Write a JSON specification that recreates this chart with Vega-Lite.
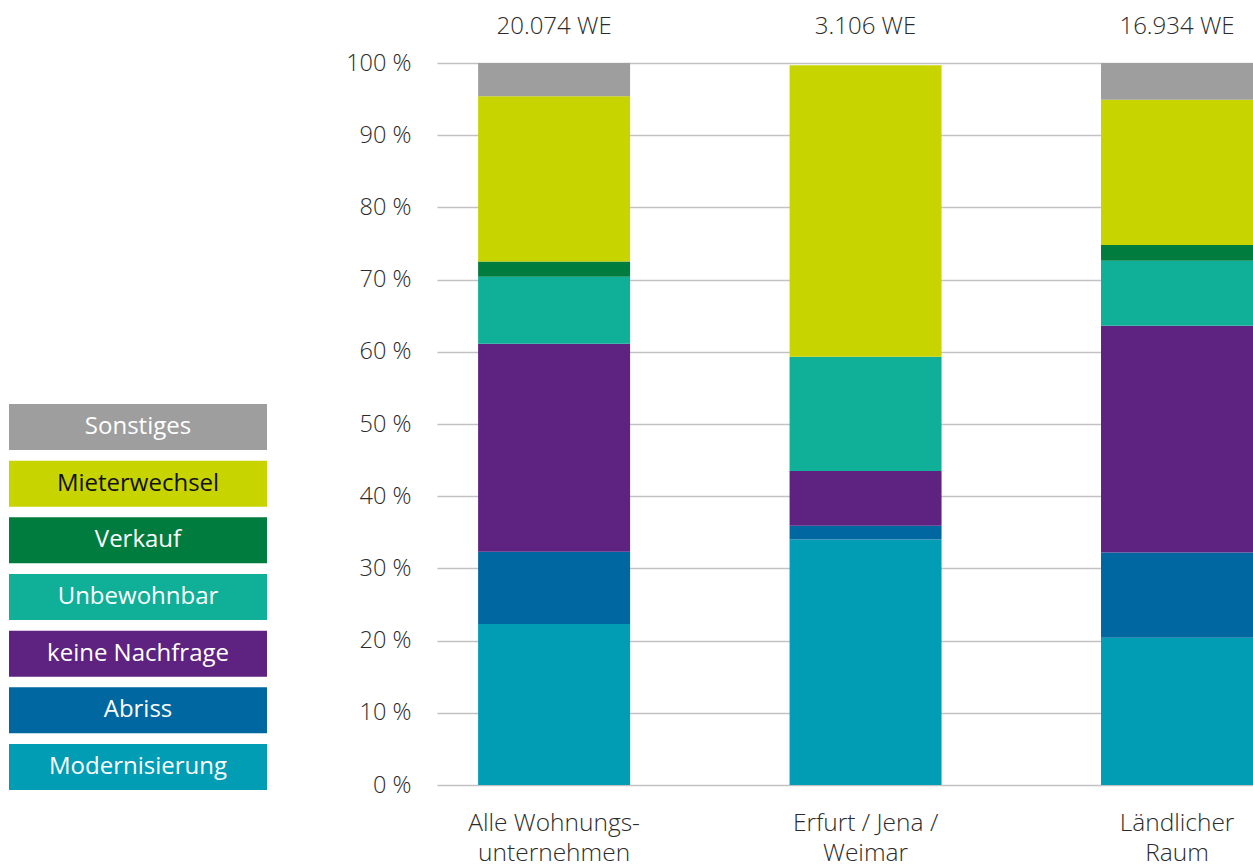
{
  "$schema": "https://vega.github.io/schema/vega-lite/v6.json",
  "background": "white",
  "padding": {"left": 9, "top": 15, "right": 0, "bottom": 10},
  "bounds": "flush",
  "spacing": 170,
  "config": {"view": {"stroke": null}, "font": "Open Sans"},
  "datasets": {
    "werte": [
      {"Gruppe": "Alle Wohnungs-\nunternehmen", "Kategorie": "Modernisierung", "Anteil": 22.3},
      {"Gruppe": "Alle Wohnungs-\nunternehmen", "Kategorie": "Abriss", "Anteil": 10.0},
      {"Gruppe": "Alle Wohnungs-\nunternehmen", "Kategorie": "keine Nachfrage", "Anteil": 28.8},
      {"Gruppe": "Alle Wohnungs-\nunternehmen", "Kategorie": "Unbewohnbar", "Anteil": 9.3},
      {"Gruppe": "Alle Wohnungs-\nunternehmen", "Kategorie": "Verkauf", "Anteil": 2.1},
      {"Gruppe": "Alle Wohnungs-\nunternehmen", "Kategorie": "Mieterwechsel", "Anteil": 22.9},
      {"Gruppe": "Alle Wohnungs-\nunternehmen", "Kategorie": "Sonstiges", "Anteil": 4.6},
      {"Gruppe": "Erfurt / Jena /\nWeimar", "Kategorie": "Modernisierung", "Anteil": 34.0},
      {"Gruppe": "Erfurt / Jena /\nWeimar", "Kategorie": "Abriss", "Anteil": 1.9},
      {"Gruppe": "Erfurt / Jena /\nWeimar", "Kategorie": "keine Nachfrage", "Anteil": 7.6},
      {"Gruppe": "Erfurt / Jena /\nWeimar", "Kategorie": "Unbewohnbar", "Anteil": 15.8},
      {"Gruppe": "Erfurt / Jena /\nWeimar", "Kategorie": "Verkauf", "Anteil": 0},
      {"Gruppe": "Erfurt / Jena /\nWeimar", "Kategorie": "Mieterwechsel", "Anteil": 40.4},
      {"Gruppe": "Erfurt / Jena /\nWeimar", "Kategorie": "Sonstiges", "Anteil": 0},
      {"Gruppe": "Ländlicher\nRaum", "Kategorie": "Modernisierung", "Anteil": 20.4},
      {"Gruppe": "Ländlicher\nRaum", "Kategorie": "Abriss", "Anteil": 11.8},
      {"Gruppe": "Ländlicher\nRaum", "Kategorie": "keine Nachfrage", "Anteil": 31.4},
      {"Gruppe": "Ländlicher\nRaum", "Kategorie": "Unbewohnbar", "Anteil": 9.0},
      {"Gruppe": "Ländlicher\nRaum", "Kategorie": "Verkauf", "Anteil": 2.2},
      {"Gruppe": "Ländlicher\nRaum", "Kategorie": "Mieterwechsel", "Anteil": 20.1},
      {"Gruppe": "Ländlicher\nRaum", "Kategorie": "Sonstiges", "Anteil": 5.1}
    ],
    "gesamt": [
      {"Gruppe": "Alle Wohnungs-\nunternehmen", "WE": "20.074 WE"},
      {"Gruppe": "Erfurt / Jena /\nWeimar", "WE": "3.106 WE"},
      {"Gruppe": "Ländlicher\nRaum", "WE": "16.934 WE"}
    ],
    "legende": [
      {"Kategorie": "Sonstiges"},
      {"Kategorie": "Mieterwechsel"},
      {"Kategorie": "Verkauf"},
      {"Kategorie": "Unbewohnbar"},
      {"Kategorie": "keine Nachfrage"},
      {"Kategorie": "Abriss"},
      {"Kategorie": "Modernisierung"}
    ]
  },
  "hconcat": [
    {
      "width": 258,
      "height": 727,
      "data": {"name": "legende"},
      "layer": [
        {
          "mark": {"type": "rect"},
          "encoding": {
            "y": {"field": "Kategorie", "type": "nominal",
                  "scale": {"domain": ["Sonstiges", "Mieterwechsel", "Verkauf", "Unbewohnbar", "keine Nachfrage", "Abriss", "Modernisierung"],
                            "range": [341, 727], "paddingInner": 0.188, "paddingOuter": 0},
                  "axis": null},
            "color": {"field": "Kategorie", "type": "nominal",
                      "scale": {"domain": ["Modernisierung", "Abriss", "keine Nachfrage", "Unbewohnbar", "Verkauf", "Mieterwechsel", "Sonstiges"],
                                "range": ["#009DB5", "#0067A0", "#5E2281", "#0FAF98", "#007D3E", "#C8D400", "#9D9E9D"]},
                      "legend": null}
          }
        },
        {
          "mark": {"type": "text", "fontSize": 24, "font": "Open Sans", "baseline": "middle", "align": "center"},
          "encoding": {
            "y": {"field": "Kategorie", "type": "nominal"},
            "text": {"field": "Kategorie"},
            "color": {"condition": {"test": "datum.Kategorie === 'Mieterwechsel'", "value": "#111111"}, "value": "#ffffff"}
          }
        }
      ]
    },
    {
      "width": 816,
      "height": 722,
      "layer": [
        {
          "data": {"name": "werte"},
          "transform": [
            {"calculate": "indexof(['Modernisierung', 'Abriss', 'keine Nachfrage', 'Unbewohnbar', 'Verkauf', 'Mieterwechsel', 'Sonstiges'], datum.Kategorie)", "as": "Rang"}
          ],
          "mark": {"type": "bar"},
          "encoding": {
            "x": {"field": "Gruppe", "type": "nominal",
                  "sort": ["Alle Wohnungs-\nunternehmen", "Erfurt / Jena /\nWeimar", "Ländlicher\nRaum"],
                  "scale": {"paddingInner": 0.512, "paddingOuter": 0.066, "align": 1},
                  "axis": {"title": null, "domain": false, "ticks": false, "labelAngle": 0,
                           "labelFontSize": 24.5, "labelFont": "Open Sans", "labelFontWeight": 300,
                           "labelColor": "#2b2b2b", "labelPadding": 26, "labelLineHeight": 30,
                           "labelExpr": "split(datum.label, '\\n')"}},
            "y": {"field": "Anteil", "type": "quantitative", "stack": "zero",
                  "scale": {"domain": [0, 100]},
                  "axis": {"title": null, "domain": false, "ticks": false,
                           "values": [0, 10, 20, 30, 40, 50, 60, 70, 80, 90, 100],
                           "labelExpr": "datum.value + ' %'",
                           "labelFontSize": 23.5, "labelFont": "Open Sans", "labelFontWeight": 300,
                           "labelColor": "#2b2b2b", "labelPadding": 26,
                           "gridColor": "#c2c2c2", "gridWidth": 1.5}},
            "color": {"field": "Kategorie", "type": "nominal",
                      "scale": {"domain": ["Modernisierung", "Abriss", "keine Nachfrage", "Unbewohnbar", "Verkauf", "Mieterwechsel", "Sonstiges"],
                                "range": ["#009DB5", "#0067A0", "#5E2281", "#0FAF98", "#007D3E", "#C8D400", "#9D9E9D"]},
                      "legend": null},
            "order": {"field": "Rang", "type": "quantitative", "sort": "ascending"}
          }
        },
        {
          "data": {"name": "gesamt"},
          "mark": {"type": "text", "fontSize": 24, "font": "Open Sans", "fontWeight": 300, "color": "#2b2b2b", "baseline": "alphabetic", "dy": -29},
          "encoding": {
            "x": {"field": "Gruppe", "type": "nominal", "sort": ["Alle Wohnungs-\nunternehmen", "Erfurt / Jena /\nWeimar", "Ländlicher\nRaum"]},
            "y": {"datum": 100},
            "text": {"field": "WE"}
          }
        }
      ]
    }
  ]
}
